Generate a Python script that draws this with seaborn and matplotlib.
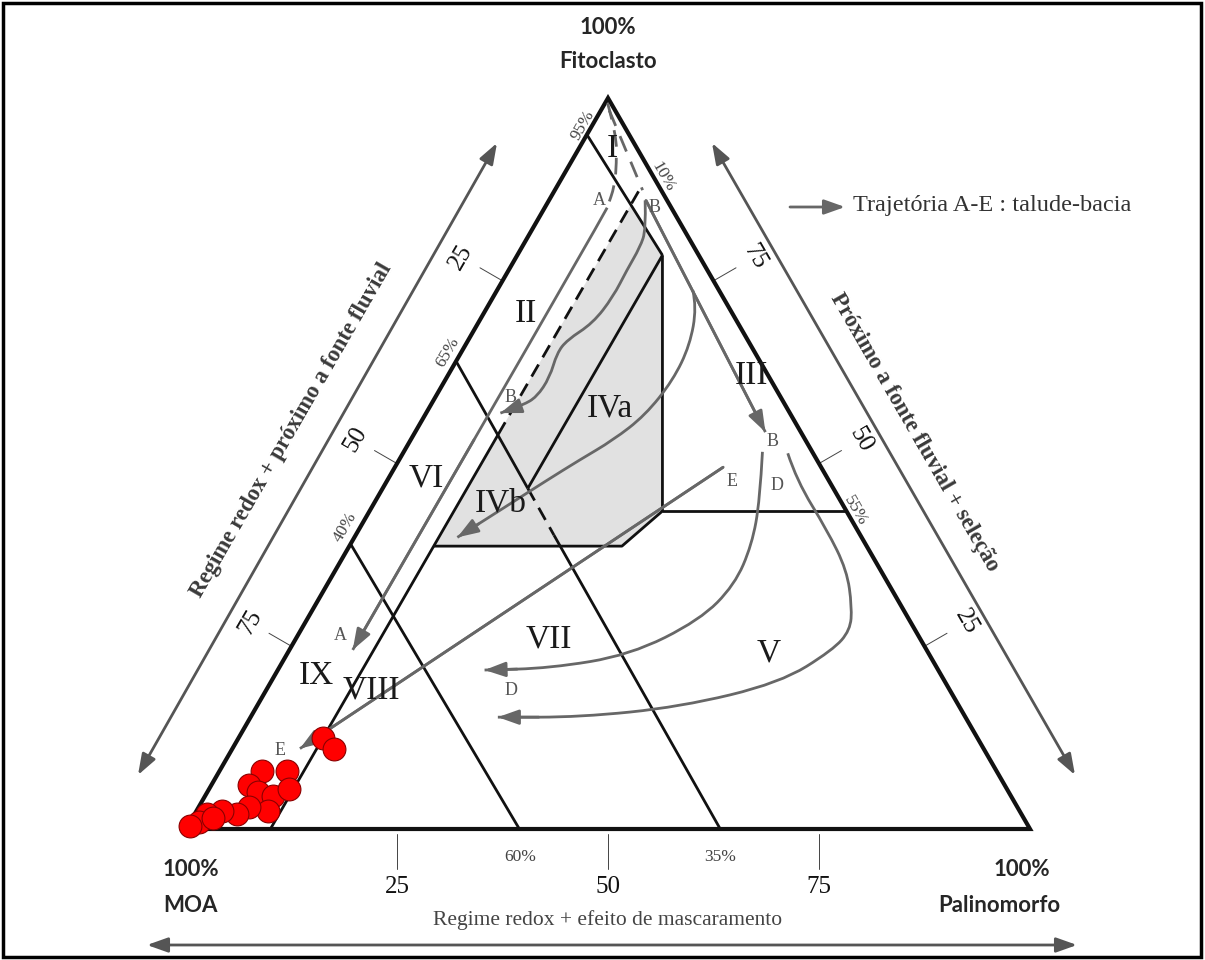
import numpy as np
import pandas as pd
import matplotlib
matplotlib.use('Agg')
import matplotlib.pyplot as plt
from matplotlib.patches import Polygon, Rectangle, PathPatch
from matplotlib.path import Path
import seaborn as sns

# --- dados (composicoes em %: palinomorfo P, fitoclasto F; MOA = 100 - P - F) ---
amostra_p = [10, 12, 5, 8, 4.5, 6, 8, 9.5, 8.5, 6, 5, 3, 1.5, 1, 0.3, 2.5]
amostra_f = [12.5, 11, 8, 8, 6, 5, 4.5, 5.5, 2.5, 3, 2, 2.5, 2, 1, 0.4, 1.5]

# limites dos campos (linhas pretas)
lim_I_II_p, lim_I_II_f = [0, 17.2], [95, 78.5]
lim_p10_p, lim_p10_f = [10, 10], [0, 54]
lim_p10_tr_p, lim_p10_tr_f = [10, 10], [54, 88]
lim_a36_p, lim_a36_f = [0, 10, 17.2], [64, 53.9, 46.6]
lim_a36_tr_p, lim_a36_tr_f = [17.2, 23.5], [46.6, 40.2]
lim_a36_b_p, lim_a36_b_f = [23.5, 63.3], [40.2, 0]
lim_a61_p, lim_a61_f = [0, 39.5], [39, 0]
lim_IVab_p, lim_IVab_f = [17.2, 17.2], [46.6, 78.5]
lim_IV_p = [10, 32.3, 34.7, 17.2]
lim_IV_f = [38.7, 38.7, 43.5, 78.5]
lim_III_V_p, lim_III_V_f = [34.7, 56.5], [43.5, 43.5]

# campo IV sombreado
campo_IV_p = [10, 32.3, 34.7, 17.2, 10]
campo_IV_f = [38.7, 38.7, 43.5, 78.5, 85.4]

# trajetorias (cinza)
trajA_tr_p = [0.3, 3.5, 5.5, 6.8, 7.4]
trajA_tr_f = [99.3, 95, 91, 88, 85]
trajA_p = [7.4, 7.5, 7.5]
trajA_f = [85, 82, 24.5]
trajB_tr_p, trajB_tr_f = [1, 10.4], [98.3, 87.4]
trajB_p, trajB_f = [11.5, 41.5], [86, 54.3]
trajB1_p = [11.4, 13.5, 14, 14, 14.2, 13.6, 11.7, 11.4, 12.2, 12, 10.9, 8.8]
trajB1_f = [86, 82, 79.6, 76.5, 72.8, 69.2, 66.9, 65.1, 61.8, 59.1, 58, 56.9]
trajIV_p = [23.2, 24.8, 26.6, 27, 26.1, 24, 21.4, 18.9, 15.4, 12.2]
trajIV_f = [73.7, 71.4, 66.2, 61.4, 56.6, 53.2, 50.5, 47.7, 43.6, 39.9]
trajE_p, trajE_f = [38.9, 8], [49.5, 11]
trajD1_p = [42.5, 45.5, 47.6, 48.3, 46.6, 40.7, 32.1, 24.5]
trajD1_f = [51.6, 45, 38.9, 33.4, 28.6, 23.8, 22, 21.75]
trajD2_p = [45.6, 48.5, 55.5, 60.6, 63.7, 65.1, 64.4, 60.4, 50.2, 39, 29.3]
trajD2_f = [51.4, 47.7, 40.9, 35.4, 30.4, 27.2, 24.5, 20, 16.7, 15.3, 15.3]

# rotulos
campo_nome = ['I', 'II', 'III', 'IVa', 'IVb', 'V', 'VI', 'VII', 'VIII', 'IX']
campo_p = [4, 5, 36, 21.5, 15, 57, 4.5, 30, 12.5, 5]
campo_f = [93, 70.5, 62, 57.5, 44.5, 24, 48, 26, 19, 21]
letra_nome = ['A', 'B', 'B', 'B', 'E', 'D', 'A', 'D', 'E']
letra_p = [6, 13, 9, 43, 41, 46.5, 5, 29, 5.7]
letra_f = [86, 85, 59, 53, 47.5, 47, 26.5, 19, 10.8]
pct_nome = ['95%', '65%', '40%', '10%', '55%', '60%', '35%']
pct_p = [-1.1, -1.6, -1.8, 11.9, 57.5, 41.5, 65.2]
pct_f = [96.3, 65.3, 41.3, 89.2, 43.6, -3.8, -3.8]
pct_rot = [60, 60, 60, -60, -60, 0, 0]
eixo_val = [25, 50, 75]
rot_esq = ['75', '50', '25']
rot_dir = ['25', '50', '75']
rot_base = ['25', '50', '75']

H = np.sqrt(3) / 2


def tern(p, f):
    p = np.asarray(p, float) / 100
    f = np.asarray(f, float) / 100
    return p + f / 2, f * H


def px(xp, yp):
    return (xp - 186) / 844, (829 - yp) / 844


sns.set_theme(style='white')
plt.rcParams['font.family'] = ['Liberation Serif', 'DejaVu Serif']

fig = plt.figure(figsize=(12.05, 9.6), dpi=100)
ax = fig.add_axes([0, 0, 1, 1])
ax.set_xlim(-186 / 844, 1019 / 844)
ax.set_ylim(-131 / 844, 829 / 844)
ax.axis('off')

PRETO = '#111111'
CINZA = '#676767'

# campo IV sombreado
xs, ys = tern(campo_IV_p, campo_IV_f)
ax.add_patch(Polygon(np.column_stack([xs, ys]), closed=True, fc='#e1e1e1', ec='none', zorder=1))

# triangulo
xs, ys = tern([0, 100, 0, 0], [0, 0, 100, 0])
ax.plot(xs, ys, color=PRETO, lw=3.0, solid_joinstyle='miter', zorder=3)


def linha(p, f, ls='-', cor=PRETO, lw=2.0, z=3):
    x, y = tern(p, f)
    l, = ax.plot(x, y, color=cor, lw=lw, ls=ls, zorder=z, solid_capstyle='butt')
    if ls == '--':
        l.set_dashes((5, 3))


linha(lim_I_II_p, lim_I_II_f)
linha(lim_p10_p, lim_p10_f)
linha(lim_p10_tr_p, lim_p10_tr_f, ls='--')
linha(lim_a36_p, lim_a36_f)
linha(lim_a36_tr_p, lim_a36_tr_f, ls='--')
linha(lim_a36_b_p, lim_a36_b_f)
linha(lim_a61_p, lim_a61_f)
linha(lim_IVab_p, lim_IVab_f)
linha(lim_IV_p, lim_IV_f)
linha(lim_III_V_p, lim_III_V_f)

seta_kw = dict(arrowstyle='-|>,head_length=0.9,head_width=0.32', color=CINZA,
               lw=2.0, shrinkA=0, shrinkB=0, mutation_scale=14)


def traj(p, f, tracejado=False, seta=True):
    x, y = tern(p, f)
    pts = np.column_stack([x, y])
    verts, codes = [pts[0]], [Path.MOVETO]
    for i in range(1, len(pts) - 1):
        verts += [pts[i], (pts[i] + pts[i + 1]) / 2]
        codes += [Path.CURVE3, Path.CURVE3]
    verts.append(pts[-1])
    codes.append(Path.LINETO)
    patch = PathPatch(Path(verts, codes), fc='none', ec=CINZA, lw=2.0, zorder=4,
                      ls=(0, (6, 4)) if tracejado else '-')
    ax.add_patch(patch)
    if seta:
        ini = (pts[-2] + pts[-1]) / 2 if len(pts) > 2 else pts[-2]
        ax.annotate('', xy=tuple(pts[-1]), xytext=tuple(ini), arrowprops=seta_kw, zorder=4)


traj(trajA_tr_p, trajA_tr_f, tracejado=True, seta=False)
traj(trajA_p, trajA_f)
traj(trajB_tr_p, trajB_tr_f, tracejado=True, seta=False)
traj(trajB_p, trajB_f)
traj(trajB1_p, trajB1_f)
traj(trajIV_p, trajIV_f)
traj(trajE_p, trajE_f)
traj(trajD1_p, trajD1_f)
traj(trajD2_p, trajD2_f)

# amostras
x, y = tern(amostra_p, amostra_f)
df = pd.DataFrame({'x': x, 'y': y})
sns.scatterplot(data=df, x='x', y='y', ax=ax, s=270, color='#ff0000',
                edgecolor='#8a0000', linewidth=0.8, zorder=6, legend=False)
ax.set_xlabel('')
ax.set_ylabel('')

# marcas dos eixos
L = 26 / 844
D = 48 / 844
for v, le, ld, lb in zip(eixo_val, rot_esq, rot_dir, rot_base):
    x0, y0 = tern(0, v)
    ax.plot([x0, x0 - H * L], [y0, y0 + 0.5 * L], color='#444444', lw=0.7)
    ax.text(x0 - H * D, y0 + 0.5 * D, le, rotation=60, rotation_mode='anchor',
            ha='center', va='center', fontsize=18, color='#111111')
    x1, y1 = tern(100 - v, v)
    ax.plot([x1, x1 + H * L], [y1, y1 + 0.5 * L], color='#444444', lw=0.7)
    ax.text(x1 + H * D, y1 + 0.5 * D, ld, rotation=-60, rotation_mode='anchor',
            ha='center', va='center', fontsize=18, color='#111111')
    x2, y2 = tern(v, 0)
    ax.plot([x2, x2], [-5 / 844, -40 / 844], color='#444444', lw=0.7)
    ax.text(x2, -58 / 844, lb, ha='center', va='center', fontsize=18, color='#111111')

for nome, p, f in zip(campo_nome, campo_p, campo_f):
    x, y = tern(p, f)
    ax.text(x, y, nome, ha='center', va='center', fontsize=24, color='#1a1a1a', zorder=5)
for nome, p, f in zip(letra_nome, letra_p, letra_f):
    x, y = tern(p, f)
    ax.text(x, y, nome, ha='center', va='center', fontsize=13, color='#555555', zorder=5)
for nome, p, f, r in zip(pct_nome, pct_p, pct_f, pct_rot):
    x, y = tern(p, f)
    ax.text(x, y, nome, ha='center', va='center', rotation=r, rotation_mode='anchor',
            fontsize=12.5, color='#444444', zorder=5)

# vertices
sans = ['Lato', 'DejaVu Sans']
ax.text(*px(608, 28), '100%', ha='center', va='center', fontsize=16, fontweight='bold', family=sans)
ax.text(*px(608, 62), 'Fitoclasto', ha='center', va='center', fontsize=16, fontweight='bold', family=sans)
ax.text(*px(163, 870), '100%', ha='left', va='center', fontsize=16, fontweight='bold', family=sans)
ax.text(*px(163, 905), 'MOA', ha='left', va='center', fontsize=16, fontweight='bold', family=sans)
ax.text(*px(1050, 870), '100%', ha='right', va='center', fontsize=16, fontweight='bold', family=sans)
ax.text(*px(1060, 905), 'Palinomorfo', ha='right', va='center', fontsize=16, fontweight='bold', family=sans)

# setas duplas externas
dupla = dict(arrowstyle='<|-|>,head_length=0.9,head_width=0.32', color='#555555',
             lw=2.0, shrinkA=0, shrinkB=0, mutation_scale=14)
ax.annotate('', xy=px(497, 143), xytext=px(138, 775), arrowprops=dupla)
ax.annotate('', xy=px(712, 143), xytext=px(1075, 775), arrowprops=dupla)
ax.annotate('', xy=px(147, 945), xytext=px(1077, 945), arrowprops=dupla)

ax.text(*px(292, 430), 'Regime redox + próximo a fonte fluvial', rotation=60,
        rotation_mode='anchor', ha='center', va='center', fontsize=16.5,
        fontweight='bold', color='#3a3a3a')
ax.text(*px(914, 432), 'Próximo a fonte fluvial + seleção', rotation=-60,
        rotation_mode='anchor', ha='center', va='center', fontsize=16.5,
        fontweight='bold', color='#3a3a3a')
ax.text(*px(608, 920), 'Regime redox + efeito de mascaramento', ha='center',
        va='center', fontsize=15.5, color='#444444')

# legenda da trajetoria
ax.annotate('', xy=px(845, 207), xytext=px(790, 207), arrowprops=seta_kw)
ax.text(*px(853, 205), 'Trajetória A-E : talude-bacia', ha='left', va='center',
        fontsize=17.5, color='#333333')

fig.patches.append(Rectangle((3 / 1205, 3 / 960), 1198 / 1205, 954 / 960,
                             transform=fig.transFigure, fill=False, lw=2.5,
                             ec='black'))

fig.savefig('out.png', dpi=100)
